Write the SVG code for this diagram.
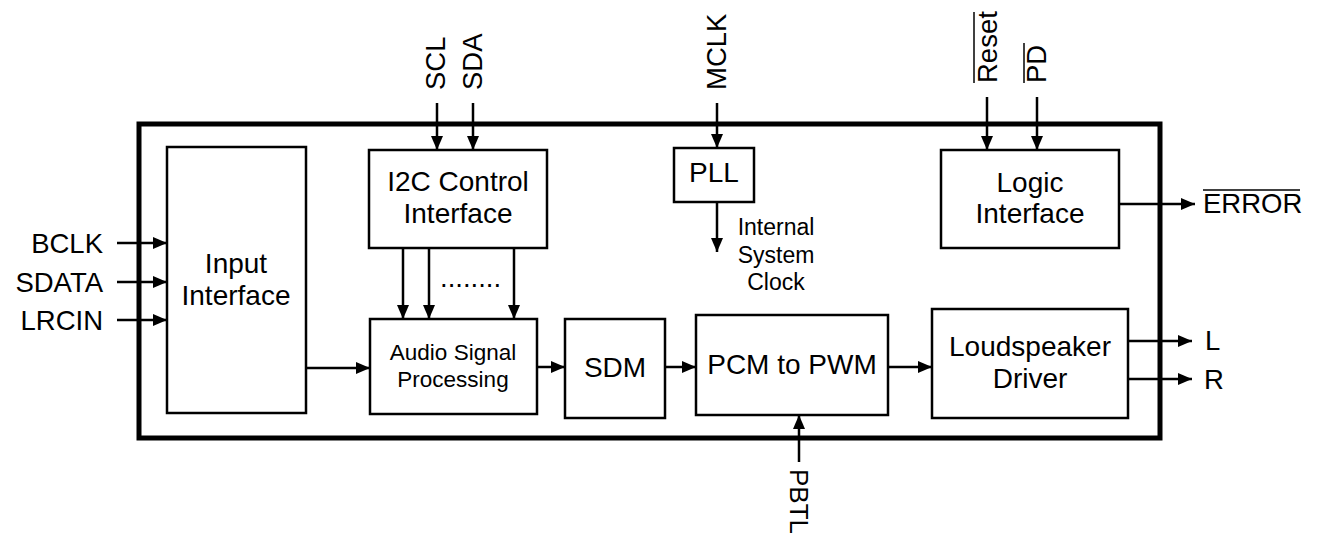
<svg xmlns="http://www.w3.org/2000/svg" width="1319" height="538" viewBox="0 0 1319 538">
<style>
.b{fill:#fff;stroke:#000;stroke-width:2.5}
.o{fill:none;stroke:#000;stroke-width:5}
.w{stroke:#000;stroke-width:2.5;fill:none;marker-end:url(#ah)}
.t{font-family:"Liberation Sans",Arial,sans-serif;font-size:28px;fill:#000;text-anchor:middle}
.s{font-family:"Liberation Sans",Arial,sans-serif;font-size:22.5px;fill:#000;text-anchor:middle}
.c{font-family:"Liberation Sans",Arial,sans-serif;font-size:23px;fill:#000;text-anchor:middle}
.p{font-family:"Liberation Sans",Arial,sans-serif;font-size:27.5px;fill:#000}
.ov{stroke:#000;stroke-width:1.5}
</style>
<defs>
<marker id="ah" markerUnits="userSpaceOnUse" markerWidth="14" markerHeight="12" refX="14" refY="6" orient="auto">
<path d="M0,0 L14,6 L0,12 z" fill="#000"/>
</marker>
</defs>
<rect id="outer" class="o" x="139" y="124" width="1021" height="314"/>
<g id="input-interface"><rect class="b" x="167" y="147" width="139" height="266"/><text class="t" x="236" y="273">Input</text><text class="t" x="236" y="305">Interface</text></g>
<g id="i2c"><rect class="b" x="369" y="150" width="178" height="98"/><text class="t" x="458" y="191">I2C Control</text><text class="t" x="458" y="223">Interface</text></g>
<g id="pll"><rect class="b" x="674" y="148" width="80" height="54"/><text class="t" x="714" y="182">PLL</text></g>
<g id="logic"><rect class="b" x="941" y="150" width="178" height="98"/><text class="t" x="1030" y="192">Logic</text><text class="t" x="1030" y="223">Interface</text></g>
<g id="asp"><rect class="b" x="370" y="319" width="167" height="95"/><text class="s" x="453" y="360">Audio Signal</text><text class="s" x="453" y="387">Processing</text></g>
<g id="sdm"><rect class="b" x="565" y="319" width="100" height="99"/><text class="t" x="615" y="377">SDM</text></g>
<g id="pcm"><rect class="b" x="696" y="315" width="192" height="100"/><text class="t" x="792" y="374">PCM to PWM</text></g>
<g id="lsd"><rect class="b" x="932" y="309" width="196" height="109"/><text class="t" x="1030" y="356">Loudspeaker</text><text class="t" x="1030" y="388">Driver</text></g>
<g id="connectors">
<line class="w" x1="117" y1="243" x2="167" y2="243"/>
<line class="w" x1="117" y1="282" x2="167" y2="282"/>
<line class="w" x1="117" y1="320" x2="167" y2="320"/>
<line class="w" x1="437" y1="103" x2="437" y2="150"/>
<line class="w" x1="473" y1="103" x2="473" y2="150"/>
<line class="w" x1="717" y1="103" x2="717" y2="148"/>
<line class="w" x1="717" y1="202" x2="717" y2="252"/>
<line class="w" x1="987" y1="97" x2="987" y2="150"/>
<line class="w" x1="1037" y1="97" x2="1037" y2="150"/>
<line class="w" x1="1119" y1="204" x2="1195" y2="204"/>
<line class="w" x1="403" y1="248" x2="403" y2="319"/>
<line class="w" x1="429" y1="248" x2="429" y2="319"/>
<line class="w" x1="514" y1="248" x2="514" y2="319"/>
<line class="w" x1="306" y1="368" x2="370" y2="368"/>
<line class="w" x1="537" y1="367" x2="565" y2="367"/>
<line class="w" x1="665" y1="367" x2="696" y2="367"/>
<line class="w" x1="888" y1="367" x2="932" y2="367"/>
<line class="w" x1="799" y1="462" x2="799" y2="415"/>
<line class="w" x1="1128" y1="341" x2="1192" y2="341"/>
<line class="w" x1="1128" y1="379" x2="1192" y2="379"/>
</g>
<g id="labels">
<text class="p" x="103" y="253" text-anchor="end">BCLK</text>
<text class="p" x="103" y="292" text-anchor="end">SDATA</text>
<text class="p" x="103" y="330" text-anchor="end">LRCIN</text>
<text class="p" x="440" y="287">........</text>
<text class="p" transform="translate(445,90) rotate(-90)">SCL</text>
<text class="p" transform="translate(482,90) rotate(-90)">SDA</text>
<text class="p" transform="translate(726,90) rotate(-90)">MCLK</text>
<text class="p" transform="translate(997,83) rotate(-90)">Reset</text>
<line class="ov" x1="974" y1="83" x2="974" y2="12"/>
<text class="p" transform="translate(1046,83) rotate(-90)">PD</text>
<line class="ov" x1="1024" y1="83" x2="1024" y2="43"/>
<text class="p" x="1203" y="213">ERROR</text>
<line class="ov" x1="1203" y1="190" x2="1300" y2="190"/>
<text class="p" style="font-size:26px" transform="translate(790,469) rotate(90)">PBTL</text>
<text class="p" x="1205" y="350">L</text>
<text class="p" x="1204" y="389">R</text>
<text class="c" x="776" y="235">Internal</text>
<text class="c" x="776" y="263">System</text>
<text class="c" x="776" y="290">Clock</text>
</g>
</svg>
